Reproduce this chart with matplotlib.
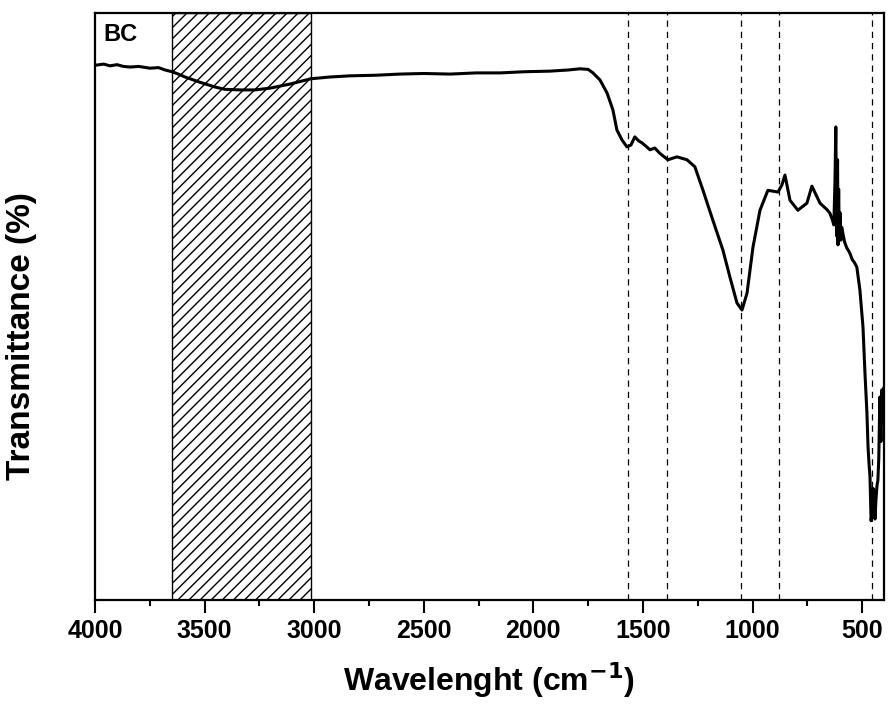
import matplotlib
matplotlib.use("Agg")
import matplotlib.pyplot as plt
from matplotlib.ticker import MultipleLocator

plt.rcParams['font.family'] = ['Liberation Sans', 'DejaVu Sans']

# FTIR spectrum of BC (wavenumber cm^-1, transmittance arbitrary %)
wavenumber = [4000, 3960, 3932, 3900, 3870, 3840, 3800, 3749, 3710, 3681, 3649, 3620, 3589,
              3521, 3453, 3407, 3338, 3270, 3202, 3110, 3015, 2928, 2837, 2720, 2609,
              2500, 2380, 2260, 2152, 2040, 1924, 1840, 1787, 1750, 1728, 1696, 1664,
              1637, 1619, 1596, 1573, 1555, 1537, 1519, 1505, 1486, 1468, 1446, 1423,
              1386, 1345, 1299, 1263, 1226, 1181, 1135, 1103, 1071, 1048, 1025, 998,
              966, 930, 884, 866, 852, 829, 793, 752, 729, 692, 660, 647, 636, 629,
              624, 620, 616, 612, 610, 607, 604, 601, 597, 593, 588, 580, 570, 556, 545,
              535, 524, 510, 496, 487, 478, 473, 468, 464, 459, 455, 450, 446, 441,
              437, 432, 428, 424, 419, 414, 410, 405, 401]
transmittance = [91.1, 91.3, 91.0, 91.2, 90.9, 90.8, 90.9, 90.6, 90.7, 90.3, 90.0, 89.6, 89.1,
                 88.2, 87.4, 87.0, 86.9, 86.9, 87.2, 87.9, 88.8, 89.1, 89.3, 89.4, 89.6,
                 89.7, 89.6, 89.8, 89.8, 90.0, 90.1, 90.3, 90.5, 90.4, 89.8, 88.6, 86.4,
                 83.5, 80.1, 78.4, 77.2, 77.5, 78.9, 78.2, 77.9, 77.3, 76.7, 77.0, 76.1,
                 75.0, 75.5, 75.0, 73.8, 69.8, 64.7, 59.6, 55.0, 50.6, 49.4, 52.3, 60.1,
                 66.4, 69.8, 69.5, 70.7, 72.4, 68.1, 66.4, 67.6, 70.5, 67.6, 66.5, 65.9, 64.8, 63.9,
                 71.0, 80.6, 62.0, 75.0, 60.5, 70.0, 61.5, 66.0, 61.3, 63.5, 62.5, 61.0, 60.0, 59.1, 58.0,
                 57.5, 56.7, 52.8, 46.5, 38.7, 31.9, 26.1, 23.0, 21.0, 13.5, 14.8, 19.0, 18.7, 13.8,
                 17.0, 19.5, 20.4, 24.0, 34.6, 27.0, 35.8, 30.0, 36.1]

hatch_band = (3650, 3015)
dashed_lines = [1568, 1391, 1053, 880, 455]
x_ticks = [4000, 3500, 3000, 2500, 2000, 1500, 1000, 500]

fig = plt.figure(figsize=(8.89, 7.12), dpi=100)
ax = fig.add_axes([0.1069, 0.1573, 0.8875, 0.8244])

ax.axvspan(hatch_band[0], hatch_band[1], facecolor='white', edgecolor='black',
           hatch='///', linewidth=1.0, zorder=1)
for x in dashed_lines:
    ax.axvline(x, color='black', linestyle=(0, (5, 4)), linewidth=0.9, zorder=2)

ax.plot(wavenumber, transmittance, color='black', linewidth=2.2, zorder=3)

ax.set_xlim(4000, 400)
ax.set_ylim(0, 100)
ax.set_xticks(x_ticks)
ax.set_xticklabels([str(t) for t in x_ticks])
ax.xaxis.set_minor_locator(MultipleLocator(250))
ax.set_yticks([])
ax.tick_params(axis='x', which='major', direction='out', length=9, width=1.5,
               labelsize=18, pad=5)
ax.tick_params(axis='x', which='minor', direction='out', length=4.5, width=1.5)
for lbl in ax.get_xticklabels():
    lbl.set_fontweight('bold')
for s in ax.spines.values():
    s.set_linewidth(1.6)

ax.set_xlabel('Wavelenght (cm$^{\\mathbf{-1}}$)', fontsize=23, fontweight='bold', labelpad=12)
ax.set_ylabel('Transmittance (%)', fontsize=24, fontweight='bold', va='center')
ax.yaxis.set_label_coords(-0.093, 0.45)
ax.text(0.010, 0.983, 'BC', transform=ax.transAxes, fontsize=17, fontweight='bold',
        va='top', ha='left')

fig.savefig('out.png', dpi=100)
